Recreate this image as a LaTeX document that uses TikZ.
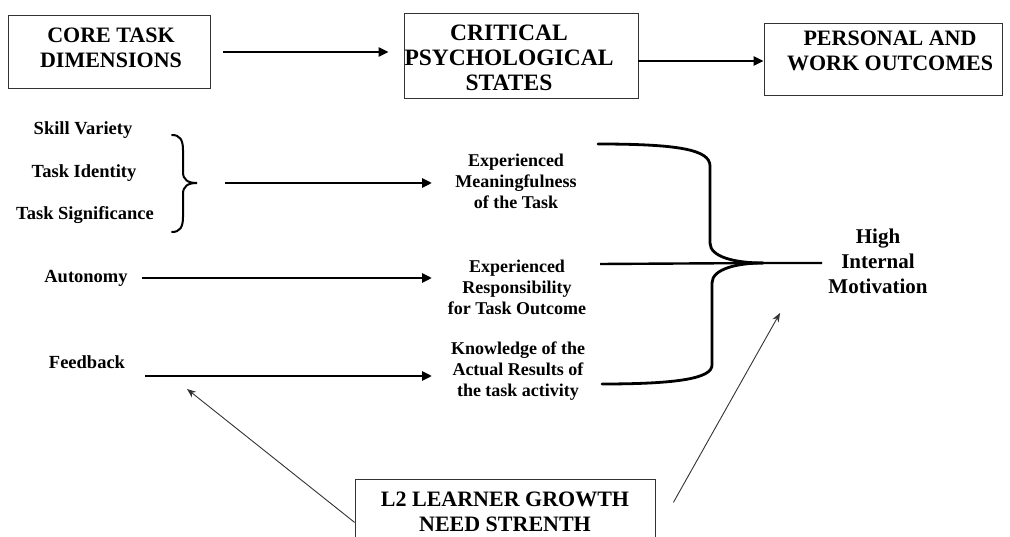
\documentclass[tikz,border=0pt]{standalone}
\usepackage{fontspec}
\setmainfont{Liberation Serif}
\usetikzlibrary{arrows.meta}
\begin{document}
\begin{tikzpicture}[x=1pt,y=1pt,
  hbox/.style={draw=black!80, line width=0.8pt, inner sep=0pt},
  htext/.style={inner sep=0pt, align=center, font=\bfseries\fontsize{22}{25}\selectfont},
  ltext/.style={inner sep=0pt, align=center, font=\bfseries\fontsize{18.5}{21}\selectfont},
  mtext/.style={inner sep=0pt, align=center, font=\bfseries\fontsize{18}{21}\selectfont},
  otext/.style={inner sep=0pt, align=center, font=\bfseries\fontsize{21}{25}\selectfont},
  thickarrow/.style={line width=2.6pt, -{Triangle[length=10pt,width=9pt]}},
  thinarrow/.style={draw=black!80, line width=0.9pt, -{Stealth[length=9pt,width=7pt]}},
  bracepath/.style={line width=2.8pt, line cap=round, line join=round},
  smallbrace/.style={line width=2pt, line cap=round}]
\useasboundingbox (0,0) rectangle (1010,-537);
\clip (0,0) rectangle (1010,-537);

% header boxes
\node[hbox, minimum width=202pt, minimum height=73pt] (core) at (109,-51.5) {};
\node[htext] (coret) at (111,-48) {CORE TASK\\DIMENSIONS};
\node[hbox, minimum width=234pt, minimum height=85pt] (cps) at (521,-56) {};
\node[htext, font=\bfseries\fontsize{23.5}{25}\selectfont] (cpst) at (509,-58) {CRITICAL\\PSYCHOLOGICAL\\STATES};
\node[hbox, minimum width=238pt, minimum height=72pt] (pwo) at (883,-59) {};
\node[htext] (pwot) at (890,-50.5) {PERSONAL AND\\WORK OUTCOMES};

\draw[thickarrow, shorten <=13pt, shorten >=15pt] ([yshift=-0.5pt]core.east) -- ([yshift=-0.5pt]core.east -| cps.west);
\draw[thickarrow] ([yshift=-5pt]cps.east) -- ([yshift=-5pt]cps.east -| pwo.west);

% left labels
\node[ltext] (sv) at (83,-130) {Skill Variety};
\node[ltext] (ti) at (84,-173) {Task Identity};
\node[ltext] (ts) at (85,-215) {Task Significance};
\node[ltext] (au) at (86,-278) {Autonomy};
\node[ltext] (fb) at (87,-362) {Feedback};

% small brace
\draw[smallbrace] (172,-135) .. controls (180,-135) and (183,-140) .. (183,-150)
  -- (183,-172) .. controls (183,-180) and (188,-183) .. (197,-183)
  .. controls (188,-183) and (183,-186) .. (183,-194)
  -- (183,-217) .. controls (183,-227) and (180,-232) .. (172,-232);
\coordinate (bt) at (197,-183);

% middle texts
\node[mtext] (mean) at (516,-181) {Experienced\\Meaningfulness\\of the Task};
\node[mtext] (resp) at (517,-287) {Experienced\\Responsibility\\for Task Outcome};
\node[mtext] (know) at (518,-371) {Knowledge of the\\Actual Results of\\the task activity};

\coordinate (a1e) at (432,-183);
\coordinate (a2e) at (432,-278);
\coordinate (a3e) at (432,-376);
\draw[thickarrow, shorten <=28pt] (bt) -- (a1e);
\draw[thickarrow, shorten <=14pt] (au.east |- a2e) -- (a2e);
\draw[thickarrow] (145,-376) coordinate (fbs) -- (a3e);

% big brace
\coordinate (tip) at (763,-263);
\node[otext] (him) at (878,-261) {High\\Internal\\Motivation};
\draw[bracepath] (598,-144) .. controls (680,-144) and (710,-150) .. (710,-166)
  -- (710,-243) .. controls (710,-257) and (735,-263) .. (tip);
\draw[bracepath] (602,-384) .. controls (680,-384) and (712,-378) .. (712,-365)
  -- (712,-283) .. controls (712,-269) and (737,-263) .. (tip);
\draw[line width=2.4pt] (600,-264) -- (tip) -- (822,-263);

% bottom box
\node[hbox, minimum width=300pt, minimum height=70pt, anchor=north] (gns) at (505,-479) {};
\node[htext] (gnst) at (505,-512) {L2 LEARNER GROWTH\\NEED STRENTH};

\coordinate (fbp) at (187,-389);
\coordinate (himp) at (780,-313);
\draw[thinarrow] ([yshift=-8pt]gns.west) -- (fbp);
\draw[thinarrow] ([xshift=18pt,yshift=12pt]gns.east) -- (himp);
\end{tikzpicture}
\end{document}
